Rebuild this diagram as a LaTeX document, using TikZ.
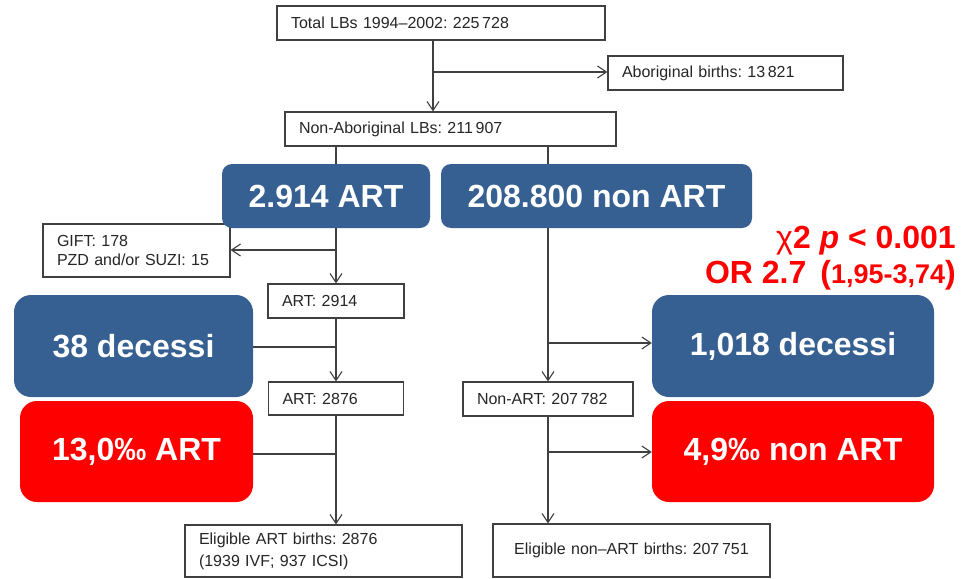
\documentclass[tikz,border=0pt]{standalone}
\usepackage{fontspec}
\setmainfont{Liberation Sans}
\usetikzlibrary{arrows.meta,backgrounds}
\definecolor{artblue}{RGB}{55,96,146}
\definecolor{artred}{RGB}{255,0,0}
\definecolor{linegray}{RGB}{64,64,64}
\frenchspacing
\begin{document}
\begin{tikzpicture}[x=1pt,y=-1pt,
  thinbox/.style={draw=linegray, line width=1.1pt, fill=white, inner xsep=14pt, inner ysep=0pt,
    align=left, font=\fontsize{16}{19.5}\selectfont, text=black!85},
  bluebox/.style={fill=artblue, text=white, rounded corners=17pt,
    font=\fontsize{32}{38}\selectfont\bfseries, inner sep=0pt},
  redbox/.style={bluebox, fill=artred},
  conn/.style={draw=linegray, line width=1.1pt},
  arr/.style={conn, -{Straight Barb[length=9pt,width=12pt]}},
  redtxt/.style={anchor=base east, text=artred, inner sep=0pt, font=\fontsize{32}{38}\selectfont\bfseries}
]
\useasboundingbox (0,0) rectangle (966,578);

% thin boxes
\node[thinbox, text width=300pt, minimum height=34pt] (total) at (441,23) {Total LBs 1994–2002: 225\,728};
\node[thinbox, text width=207pt, minimum height=34pt] (abor) at (725.5,73) {Aboriginal births: 13\,821};
\node[thinbox, text width=303pt, minimum height=34pt] (nonab) at (450.5,129) {Non-Aboriginal LBs: 211\,907};
\node[thinbox, text width=159pt, minimum height=53pt] (gift) at (136.5,250.5) {GIFT: 178\\PZD and/or SUZI: 15};
\node[thinbox, text width=108pt, minimum height=34pt] (art2914) at (336,301) {ART: 2914};
\node[thinbox, text width=107pt, minimum height=33pt] (art2876) at (336,398.5) {ART: 2876};
\node[thinbox, text width=142pt, minimum height=34pt] (nonART) at (548,399) {Non-ART: 207\,782};
\node[thinbox, text width=249pt, minimum height=52pt, font=\fontsize{16}{22}\selectfont] (eligART) at (323.5,551) {Eligible ART births: 2876\\(1939 IVF; 937 ICSI)};
\node[thinbox, text width=249pt, minimum height=53pt, align=center] (eligNon) at (631.5,550.5) {Eligible non–ART births: 207\,751};

% coloured boxes
\node[bluebox, rounded corners=10pt, minimum width=208pt, minimum height=64pt] (art1) at (326,196) {2.914 ART};
\node[bluebox, rounded corners=10pt, minimum width=311pt, minimum height=64pt] (nonart1) at (596.5,196) {208.800 non ART};
\node[bluebox, minimum width=239pt, minimum height=102pt] (dec1) at (133.5,346) {38 decessi};
\node[redbox, minimum width=233pt, minimum height=101pt] (red1) at (136.5,451.5) {13,0‰ ART};
\node[bluebox, minimum width=282pt, minimum height=102pt] (dec2) at (793,346) {1,018 decessi};
\node[redbox, minimum width=282pt, minimum height=101pt] (red2) at (793,451.5) {4,9‰ non ART};

% red statistics
\node[redtxt] (chi) at (956,248) {{\mdseries χ}2 \textit{p} < 0.001};
\node[redtxt] (orr) at (956,283) {OR 2.7\hspace{14pt}({\fontsize{27}{30}\selectfont 1,95-3,74})};

% connectors
\coordinate (c0) at (433,72);
\coordinate (cL1) at (336,250);
\coordinate (cL2) at (336,347);
\coordinate (cL3) at (336,454);
\coordinate (cR1) at (548,343);
\coordinate (cR2) at (548,452);
\begin{scope}[on background layer]
\fill[white] (0,0) rectangle (966,578);
\draw[arr] (total.south -| c0) -- (nonab.north -| c0);
\draw[arr] (c0) -- (c0 -| abor.west);
\draw[arr] (nonab.south -| cL1) -- (art2914.north);
\draw[arr] (cL1) -- (cL1 -| gift.east);
\draw[arr] (art2914.south) -- (art2876.north);
\draw[conn] (cL2) -- (cL2 -| dec1.east);
\draw[arr] (art2876.south) -- (eligART.north -| cL3);
\draw[conn] (cL3) -- (cL3 -| red1.east);
\draw[arr] (nonab.south -| cR1) -- (nonART.north);
\draw[arr] (cR1) -- (cR1 -| dec2.west);
\draw[arr] (nonART.south) -- (eligNon.north -| cR2);
\draw[arr] (cR2) -- (cR2 -| red2.west);
\end{scope}
\end{tikzpicture}
\end{document}
